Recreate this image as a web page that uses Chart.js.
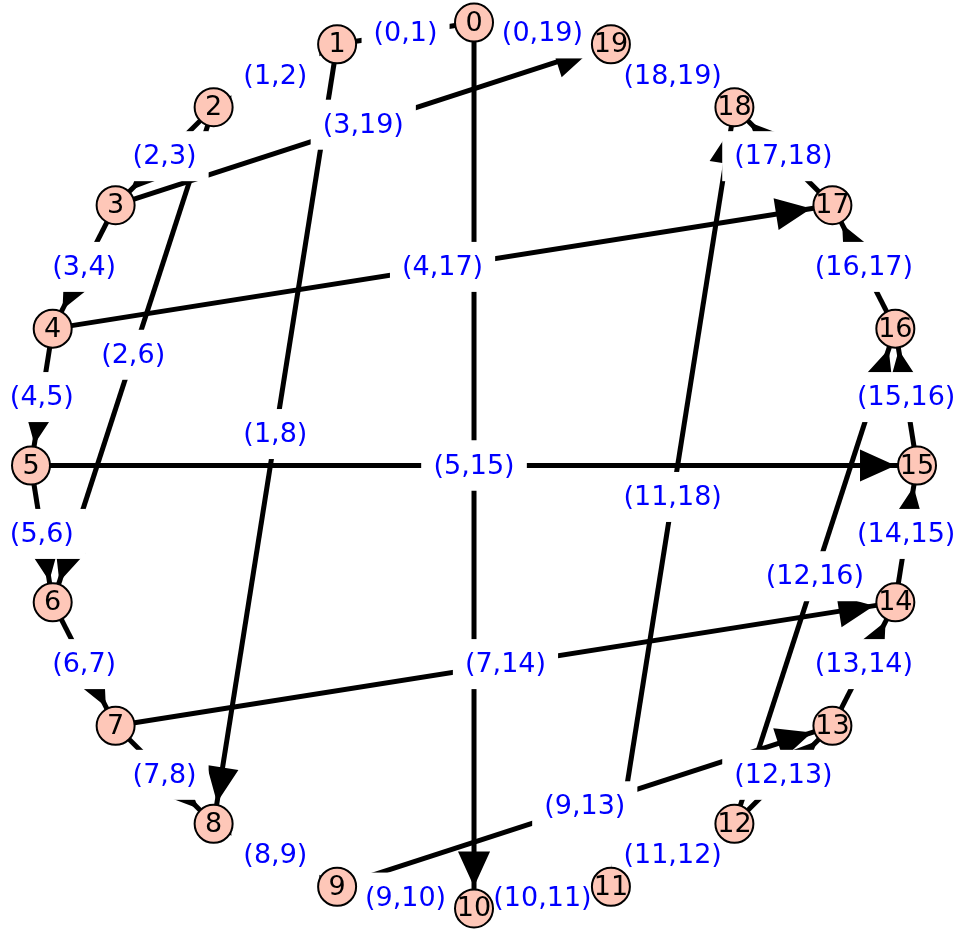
<!DOCTYPE html>
<html>
<head>
<meta charset="utf-8">
<script src="https://cdn.jsdelivr.net/npm/chart.js@4.4.1/dist/chart.umd.min.js"></script>
<style>
  html, body { margin: 0; padding: 0; background: #fff; }
  #graph { display: block; }
</style>
</head>
<body>
<canvas id="graph" width="956" height="931"></canvas>
<script>
// --- Graph data ---
const vertices = [0, 1, 2, 3, 4, 5, 6, 7, 8, 9, 10, 11, 12, 13, 14, 15, 16, 17, 18, 19];
const edgeSources = [0, 0, 0, 1, 1, 2, 2, 3, 3, 4, 4, 5, 5, 6, 7, 7, 8, 9, 9, 10, 11, 11, 12, 12, 13, 14, 15, 16, 17, 18];
const edgeTargets = [1, 10, 19, 2, 8, 3, 6, 4, 19, 5, 17, 6, 15, 7, 8, 14, 9, 10, 13, 11, 12, 18, 13, 16, 14, 15, 16, 17, 18, 19];

// --- Look ---
const VERTEX_COLOR = '#fec7b8';
const LABEL_COLOR = '#0000ff';
const VERTEX_RADIUS = 19;
const ARROW_LEN = 32;
const ARROW_HALF = 14.5;
const ARROW_GAP = 23;   // tip distance from vertex centre
const EDGE_FONT = '27px "DejaVu Sans"';
const VERTEX_FONT = '27px "DejaVu Sans"';

// circular layout, vertex 0 on top, going counter-clockwise
function circularLayout(list) {
  const n = list.length;
  return list.map((v, k) => {
    const a = Math.PI / 2 + 2 * Math.PI * k / n;
    return { x: Math.cos(a), y: Math.sin(a) };
  });
}

const pos = circularLayout(vertices);

const edgeSets = edgeSources.map((s, i) => ({
  label: `(${s},${edgeTargets[i]})`,
  data: [pos[s], pos[edgeTargets[i]]],
  showLine: true,
  borderColor: '#000',
  borderWidth: 5,
  borderCapStyle: 'butt',
  pointRadius: 0,
  pointHoverRadius: 0,
  order: 1
}));

const nodeSet = {
  label: 'vertices',
  data: pos,
  pointRadius: VERTEX_RADIUS,
  pointHoverRadius: VERTEX_RADIUS,
  pointBackgroundColor: VERTEX_COLOR,
  pointBorderColor: '#000',
  pointBorderWidth: 2,
  pointHoverBorderWidth: 2,
  order: 0
};

function px(chart, p) {
  return { x: chart.scales.x.getPixelForValue(p.x), y: chart.scales.y.getPixelForValue(p.y) };
}

const graphDecor = {
  id: 'graphDecor',
  // arrowheads and edge labels go under the vertices
  beforeDatasetDraw(chart, args) {
    if (chart.data.datasets[args.index] !== nodeSet) return;
    const ctx = chart.ctx;
    ctx.save();

    // arrowheads
    ctx.fillStyle = '#000';
    ctx.strokeStyle = '#000';
    ctx.lineWidth = 2;
    ctx.lineJoin = 'miter';
    edgeSources.forEach((s, i) => {
      const a = px(chart, pos[s]);
      const b = px(chart, pos[edgeTargets[i]]);
      const len = Math.hypot(b.x - a.x, b.y - a.y);
      const ux = (b.x - a.x) / len, uy = (b.y - a.y) / len;
      const tx = b.x - ux * (ARROW_GAP + 1), ty = b.y - uy * (ARROW_GAP + 1);
      const bx = tx - ux * ARROW_LEN, by = ty - uy * ARROW_LEN;
      ctx.beginPath();
      ctx.moveTo(tx, ty);
      ctx.lineTo(bx - uy * ARROW_HALF, by + ux * ARROW_HALF);
      ctx.lineTo(bx + uy * ARROW_HALF, by - ux * ARROW_HALF);
      ctx.closePath();
      ctx.fill();
      ctx.stroke();
    });

    // edge labels with white boxes
    ctx.font = EDGE_FONT;
    ctx.textAlign = 'center';
    ctx.textBaseline = 'middle';
    edgeSets.forEach((ds, i) => {
      const a = px(chart, pos[edgeSources[i]]);
      const b = px(chart, pos[edgeTargets[i]]);
      const mx = (a.x + b.x) / 2, my = (a.y + b.y) / 2;
      const w = ctx.measureText(ds.label).width + 24;
      const h = 50;
      ctx.fillStyle = '#fff';
      ctx.fillRect(mx - w / 2, my - h / 2, w, h);
      ctx.fillStyle = LABEL_COLOR;
      ctx.fillText(ds.label, mx, my + 1);
    });
    ctx.restore();
  },
  afterDatasetsDraw(chart) {
    const ctx = chart.ctx;
    ctx.save();
    ctx.font = VERTEX_FONT;
    ctx.textAlign = 'center';
    ctx.textBaseline = 'middle';
    ctx.fillStyle = '#000';
    vertices.forEach((v, k) => {
      const p = px(chart, pos[k]);
      ctx.fillText(String(v), p.x, p.y + 1);
    });
    ctx.restore();
  }
};

new Chart(document.getElementById('graph'), {
  type: 'scatter',
  data: { datasets: [nodeSet, ...edgeSets] },
  options: {
    responsive: false,
    devicePixelRatio: 1,
    animation: false,
    events: [],
    layout: { padding: 0, autoPadding: false },
    plugins: { legend: { display: false }, tooltip: { enabled: false } },
    scales: {
      x: { type: 'linear', display: false, min: -1.07, max: 1.088 },
      y: { type: 'linear', display: false, min: -1.051, max: 1.051 }
    }
  },
  plugins: [graphDecor]
});
</script>
</body>
</html>
